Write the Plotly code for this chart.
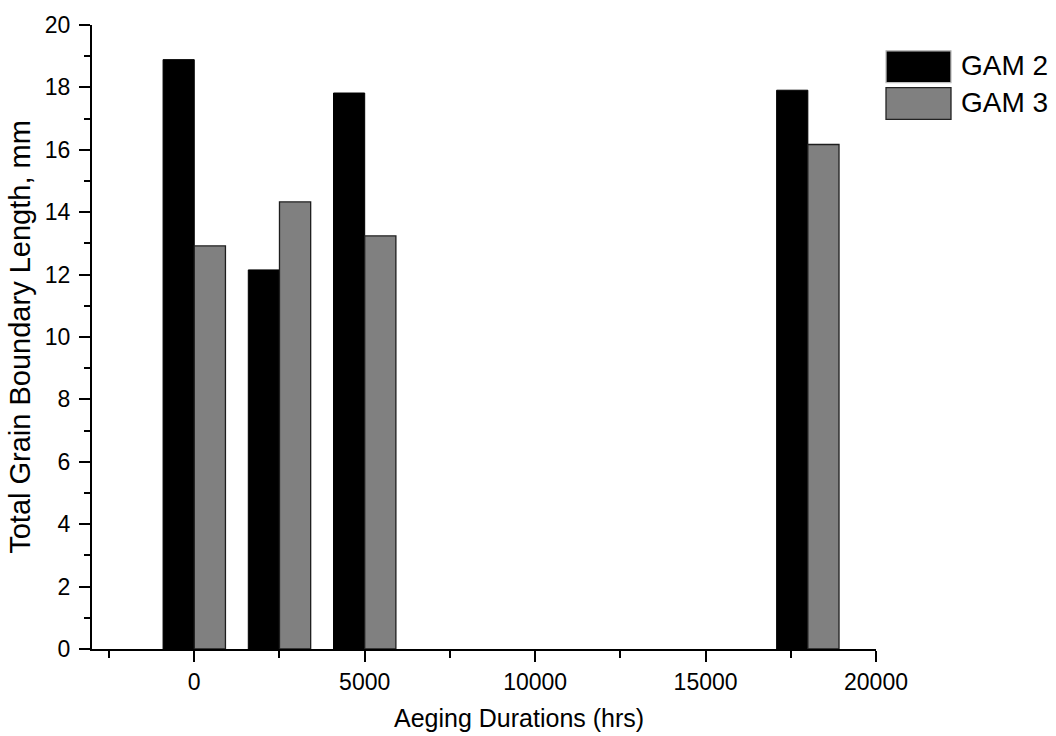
import plotly.graph_objects as go

# Aeging durations (hrs) and total grain boundary length (mm) per alloy
durations = [0, 2500, 5000, 18000]
gam2_length = [18.89, 12.15, 17.82, 17.91]
gam3_length = [12.92, 14.33, 13.24, 16.17]
series_names = ["GAM 2", "GAM 3"]
x_ticks = [0, 5000, 10000, 15000, 20000]
y_ticks = [0, 2, 4, 6, 8, 10, 12, 14, 16, 18, 20]

FONT = "Liberation Sans, Arial, sans-serif"
BAR_W = 915
colors = ["#000000", "#808080"]
edges = ["#000000", "#1e1e1e"]

fig = go.Figure()
fig.add_trace(go.Bar(
    x=durations, y=gam2_length, name=series_names[0],
    width=BAR_W, offset=-BAR_W,
    marker=dict(color=colors[0], line=dict(color=edges[0], width=1)),
    showlegend=False,
))
fig.add_trace(go.Bar(
    x=durations, y=gam3_length, name=series_names[1],
    width=BAR_W, offset=0,
    marker=dict(color=colors[1], line=dict(color=edges[1], width=1.3)),
    showlegend=False,
))

axis_common = dict(
    showline=True, linecolor="#000000", linewidth=2,
    ticks="outside", tickcolor="#000000", tickwidth=2, ticklen=11,
    showgrid=False, zeroline=False,
    tickfont=dict(family=FONT, size=23, color="#000000"),
)

fig.update_xaxes(
    range=[-3000, 20000], tickvals=x_ticks,
    ticktext=[str(v) for v in x_ticks],
    minor=dict(ticks="outside", ticklen=7, tickwidth=2, tickcolor="#000000",
               tickvals=[-2500, 2500, 7500, 12500, 17500]),
    **axis_common,
)
fig.update_yaxes(
    range=[0, 20], tickvals=y_ticks,
    ticklabelstandoff=4,
    minor=dict(ticks="outside", ticklen=6, tickwidth=2, tickcolor="#000000",
               tickvals=[1, 3, 5, 7, 9, 11, 13, 15, 17, 19]),
    title=dict(text="Total Grain Boundary Length, mm",
               font=dict(family=FONT, size=29, color="#000000"), standoff=6),
    **axis_common,
)

# legend drawn as swatches with labels at the upper right
left, top, width = 92, 21, 784
def px_x(p):
    return (p - left) / width
def px_y(p):
    return 1 - (p - top) / 628

swatches = [(47, 79), (84, 116)]
for (y0, y1), name, col, edge in zip(swatches, series_names, colors, ["#bdbdbd", "#222222"]):
    fig.add_shape(type="rect", xref="paper", yref="paper",
                  x0=px_x(886), x1=px_x(951), y0=px_y(y1), y1=px_y(y0),
                  fillcolor=col, line=dict(color=edge, width=1.3))
    fig.add_annotation(xref="paper", yref="paper", x=px_x(959),
                       y=px_y((y0 + y1) / 2 - 1), text=name, showarrow=False,
                       xanchor="left", yanchor="middle",
                       font=dict(family=FONT, size=28, color="#000000"))

fig.add_annotation(xref="paper", yref="paper", x=px_x(519), y=px_y(718),
                   text="Aeging Durations (hrs)", showarrow=False,
                   xanchor="center", yanchor="middle",
                   font=dict(family=FONT, size=25, color="#000000"))

fig.update_layout(
    width=1056, height=736,
    margin=dict(l=92, r=180, t=21, b=87),
    barmode="overlay",
    plot_bgcolor="#ffffff", paper_bgcolor="#ffffff",
    font=dict(family=FONT, color="#000000"),
)

fig.write_html("out.html")
